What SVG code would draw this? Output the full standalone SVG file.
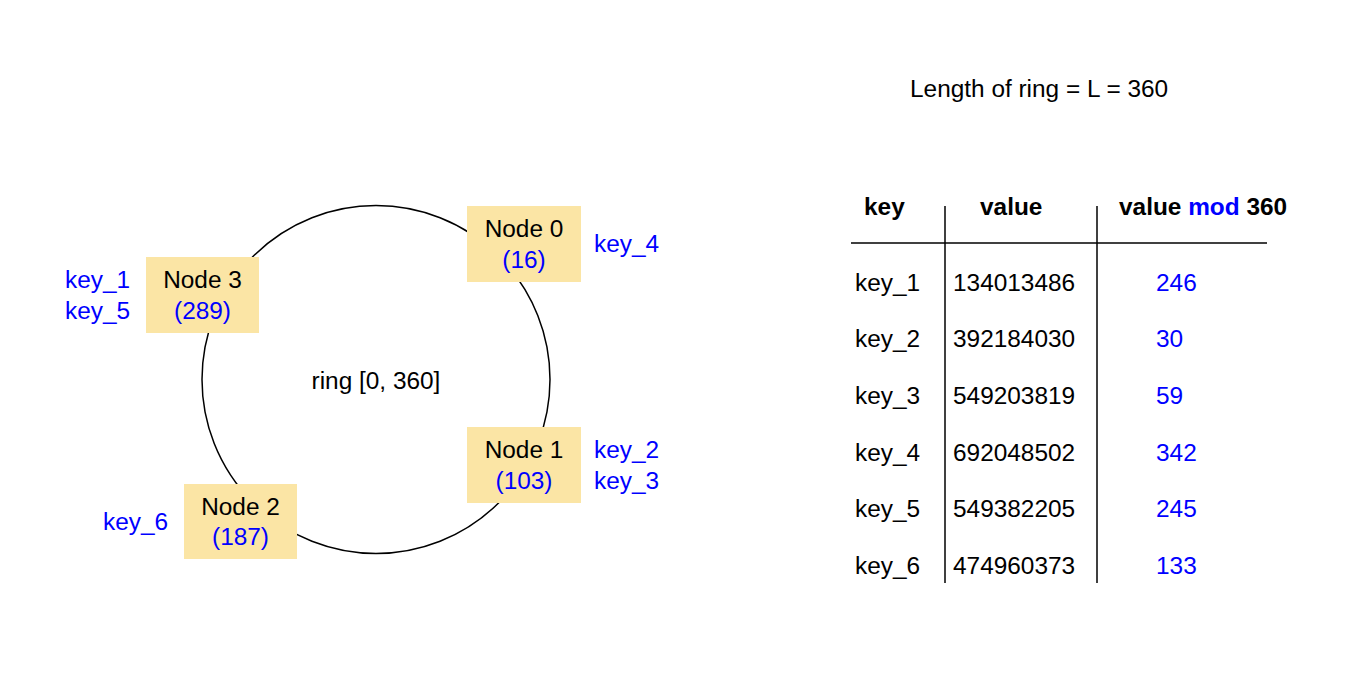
<svg xmlns="http://www.w3.org/2000/svg" width="1358" height="678" viewBox="0 0 1358 678">
<style>
text{font-family:"Liberation Sans",Arial,Helvetica,sans-serif;font-size:24.4px;fill:#000}
.b{fill:#0000ff}
.c{text-anchor:middle}
.h{font-weight:bold}
.box{fill:#fbe5a5;stroke:none}
.ln{stroke:#000;stroke-width:1.5;fill:none}
</style>
<rect width="1358" height="678" fill="#fff"/>
<g id="connectors">
<circle class="ln" cx="376" cy="379.5" r="174"/>
</g>
<text id="ring-label" class="c" x="376" y="389">ring [0, 360]</text>
<g id="node0">
<rect class="box" x="467" y="206" width="114" height="76"/>
<text class="c" x="524" y="237">Node 0</text>
<text class="c b" x="524" y="267.5">(16)</text>
</g>
<g id="node1">
<rect class="box" x="467" y="427" width="114" height="76"/>
<text class="c" x="524" y="458">Node 1</text>
<text class="c b" x="524" y="488.5">(103)</text>
</g>
<g id="node2">
<rect class="box" x="184" y="484" width="113" height="75"/>
<text class="c" x="240.5" y="514.5">Node 2</text>
<text class="c b" x="240.5" y="545">(187)</text>
</g>
<g id="node3">
<rect class="box" x="146" y="257" width="113" height="76"/>
<text class="c" x="202.5" y="288">Node 3</text>
<text class="c b" x="202.5" y="318.5">(289)</text>
</g>
<g id="keys">
<text class="b" x="65" y="288">key_1</text>
<text class="b" x="65" y="318.5">key_5</text>
<text class="b" x="594" y="251.5">key_4</text>
<text class="b" x="594" y="458">key_2</text>
<text class="b" x="594" y="488.5">key_3</text>
<text class="b" x="103" y="530">key_6</text>
</g>
<text id="title" x="910" y="97">Length of ring = L = 360</text>
<g id="table">
<line class="ln" x1="945" y1="206" x2="945" y2="583"/>
<line class="ln" x1="1097" y1="206" x2="1097" y2="583"/>
<line class="ln" x1="851" y1="243" x2="1267" y2="243"/>
<text class="h" x="864" y="215">key</text>
<text class="h" x="980" y="215">value</text>
<text class="h" x="1119" y="215">value <tspan class="b">mod</tspan> 360</text>
<text x="855" y="290.5">key_1</text><text x="953" y="290.5">134013486</text><text class="b" x="1156" y="290.5">246</text>
<text x="855" y="347.2">key_2</text><text x="953" y="347.2">392184030</text><text class="b" x="1156" y="347.2">30</text>
<text x="855" y="403.9">key_3</text><text x="953" y="403.9">549203819</text><text class="b" x="1156" y="403.9">59</text>
<text x="855" y="460.6">key_4</text><text x="953" y="460.6">692048502</text><text class="b" x="1156" y="460.6">342</text>
<text x="855" y="517.3">key_5</text><text x="953" y="517.3">549382205</text><text class="b" x="1156" y="517.3">245</text>
<text x="855" y="574">key_6</text><text x="953" y="574">474960373</text><text class="b" x="1156" y="574">133</text>
</g>
</svg>
